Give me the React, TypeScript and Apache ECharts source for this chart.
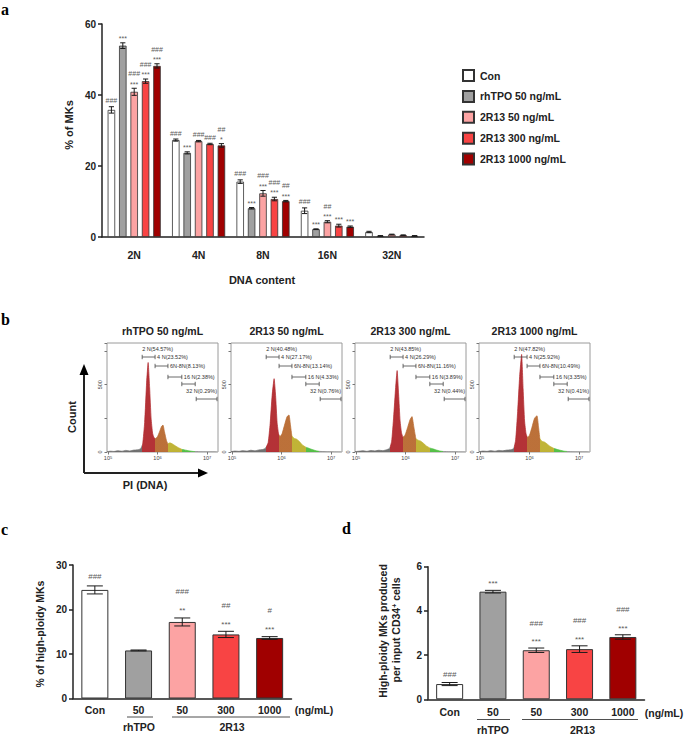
import React, { useEffect, useRef } from "react";
import * as echarts from "echarts";

const FONT = "'Liberation Sans', Arial, sans-serif";
const SERIF = "'Liberation Serif', 'Times New Roman', serif";
const AXIS = "#222";
const SIGC = "#5a5a5a";

// ---------- Panel a ----------
const dnaCategories = ["2N", "4N", "8N", "16N", "32N"];
const groupNames = ["Con", "rhTPO 50 ng/mL", "2R13 50 ng/mL", "2R13 300 ng/mL", "2R13 1000 ng/mL"];
const groupColors = ["#ffffff", "#a0a0a0", "#fca3a3", "#f84444", "#a00000"];
const conPct = [35.8, 27.3, 15.6, 7.4, 1.4];
const rhtpoPct = [53.9, 23.7, 8.1, 2.2, 0.3];
const r50Pct = [40.9, 27.0, 12.3, 4.3, 0.7];
const r300Pct = [43.9, 26.2, 10.7, 3.2, 0.5];
const r1000Pct = [48.2, 25.8, 10.1, 2.9, 0.3];
const conErr = [0.9, 0.3, 0.5, 0.8, 0.2];
const rhtpoErr = [0.8, 0.3, 0.2, 0.1, 0.1];
const r50Err = [1.0, 0.2, 0.8, 0.3, 0.1];
const r300Err = [0.6, 0.2, 0.5, 0.4, 0.1];
const r1000Err = [0.6, 0.5, 0.2, 0.2, 0.1];
const conSig = [["###"], ["###"], ["###"], ["###"], []];
const rhtpoSig = [["***"], ["***"], ["***"], ["***"], []];
const r50Sig = [["***", "###"], ["###"], ["***", "###"], ["***", "##"], []];
const r300Sig = [["***", "###"], ["###"], ["***", "###"], ["***"], []];
const r1000Sig = [["***", "###"], ["*", "##"], ["***", "##"], ["***"], []];

// ---------- Panel b ----------
const histTitles = ["rhTPO 50 ng/mL", "2R13 50 ng/mL", "2R13 300 ng/mL", "2R13 1000 ng/mL"];
const gateNames = ["2 N", "4 N", "6N-8N", "16 N", "32 N"];
const gateRanges = [[5.69, 5.95], [5.95, 6.21], [6.21, 6.49], [6.49, 6.76], [6.78, 7.2]];
const gatePctRhTPO = [54.57, 23.52, 8.13, 2.38, 0.29];
const gatePct50 = [40.48, 27.17, 13.14, 4.33, 0.76];
const gatePct300 = [43.85, 26.29, 11.16, 3.89, 0.44];
const gatePct1000 = [47.82, 25.92, 10.49, 3.35, 0.41];
const histRhTPO = [[4.98,2],[5.05,6],[5.12,4],[5.2,9],[5.28,6],[5.36,12],[5.44,8],[5.52,14],[5.6,16],[5.66,25],[5.7,60],[5.74,220],[5.78,520],[5.81,665],[5.84,480],[5.87,250],[5.9,140],[5.93,105],[5.96,100],[6.0,115],[6.04,150],[6.08,190],[6.11,200],[6.14,150],[6.18,85],[6.21,62],[6.25,68],[6.3,60],[6.35,48],[6.42,32],[6.49,20],[6.55,15],[6.62,10],[6.7,5],[6.76,3],[6.9,1],[7.2,0]];
const hist50 = [[4.98,3],[5.06,7],[5.14,5],[5.22,10],[5.3,7],[5.38,13],[5.46,9],[5.54,15],[5.62,18],[5.68,30],[5.73,70],[5.77,210],[5.81,420],[5.85,545],[5.88,420],[5.91,220],[5.94,135],[5.97,115],[6.01,135],[6.06,200],[6.11,262],[6.15,275],[6.18,200],[6.21,120],[6.25,102],[6.3,96],[6.36,78],[6.42,52],[6.49,36],[6.55,28],[6.62,18],[6.7,9],[6.76,5],[6.9,2],[7.2,0]];
const hist300 = [[4.98,3],[5.06,6],[5.14,9],[5.22,5],[5.3,11],[5.38,8],[5.46,13],[5.54,10],[5.62,17],[5.68,28],[5.72,80],[5.76,260],[5.8,480],[5.83,605],[5.86,430],[5.89,230],[5.92,140],[5.95,112],[5.99,125],[6.04,180],[6.09,240],[6.13,263],[6.17,180],[6.21,100],[6.25,88],[6.3,82],[6.36,65],[6.42,45],[6.49,30],[6.55,24],[6.62,15],[6.7,7],[6.76,4],[6.9,2],[7.2,0]];
const hist1000 = [[4.98,2],[5.06,7],[5.14,5],[5.22,10],[5.3,6],[5.38,12],[5.46,9],[5.54,14],[5.62,16],[5.68,26],[5.72,90],[5.76,300],[5.8,560],[5.84,725],[5.87,470],[5.9,230],[5.93,135],[5.96,110],[6.0,125],[6.05,185],[6.1,250],[6.15,270],[6.18,190],[6.21,100],[6.25,80],[6.3,74],[6.36,58],[6.42,40],[6.49,27],[6.55,20],[6.62,13],[6.7,6],[6.76,4],[6.9,1],[7.2,0]];
const histDecades = [5, 6, 7];

// ---------- Panels c, d ----------
const cdKeys = ["Con", "rhTPO 50", "2R13 50", "2R13 300", "2R13 1000"];
const cdLabels = ["Con", "50", "50", "300", "1000"];
const highPloidyPct = [24.4, 10.8, 17.2, 14.4, 13.6];
const highPloidyErr = [0.9, 0.1, 0.9, 0.7, 0.3];
const highPloidySig = [["###"], [], ["**", "###"], ["***", "##"], ["***", "#"]];
const perInputCD34 = [0.69, 4.87, 2.22, 2.27, 2.82];
const perInputErr = [0.07, 0.06, 0.1, 0.15, 0.1];
const perInputSig = [["###"], ["***"], ["***", "###"], ["***", "###"], ["***", "###"]];

const HX_MIN = 4.98, HX_MAX = 7.22, HY_MAX = 810;
const bracketRows = [14, 23, 34, 41, 56];

function errSeries(axisIdx: number, values: number[], errs: number[], sigs: string[][], offset: number, capHalf: number, rows: number[], fs: number) {
  return {
    type: "custom",
    xAxisIndex: axisIdx,
    yAxisIndex: axisIdx,
    z: 5,
    clip: false,
    silent: true,
    itemStyle: { color: SIGC },
    data: values.map((v, i) => [i, v]),
    encode: { x: 0, y: 1 },
    renderItem: (params: any, api: any) => {
      const i = params.dataIndex;
      const v = values[i], e = errs[i];
      const c = api.coord([i, v]);
      const x = c[0] + offset;
      const yT = api.coord([i, v + e])[1];
      const yB = api.coord([i, Math.max(0, v - e)])[1];
      const st = { stroke: "#1a1a1a", lineWidth: 1 };
      const children: any[] = [
        { type: "line", shape: { x1: x, y1: yB, x2: x, y2: yT }, style: st },
        { type: "line", shape: { x1: x - capHalf, y1: yT, x2: x + capHalf, y2: yT }, style: st },
        { type: "line", shape: { x1: x - capHalf, y1: yB, x2: x + capHalf, y2: yB }, style: st },
      ];
      sigs[i].forEach((s, k) => {
        const star = s.indexOf("*") >= 0;
        children.push({
          type: "text",
          x,
          y: yT - rows[k] + (star ? fs * 0.25 : 0),
          style: { text: s, align: "center", verticalAlign: "middle", fontSize: fs, fill: SIGC, stroke: "transparent", lineWidth: 0, fontFamily: FONT },
        });
      });
      return { type: "group", children };
    },
  };
}

function bracketSeries(axisIdx: number, pcts: number[]) {
  return {
    type: "custom",
    xAxisIndex: axisIdx,
    yAxisIndex: axisIdx,
    z: 6,
    clip: false,
    silent: true,
    itemStyle: { color: "#444" },
    data: gateRanges.map((g) => [g[0], g[1]]),
    encode: { x: [0, 1] },
    renderItem: (params: any, api: any) => {
      const k = params.dataIndex;
      const [s, e] = gateRanges[k];
      const top = api.coord([s, HY_MAX])[1];
      const xs = api.coord([s, 0])[0];
      const xe = api.coord([e, 0])[0];
      const y = top + bracketRows[k];
      const st = { stroke: "#444", lineWidth: 0.8 };
      const children: any[] = [
        { type: "line", shape: { x1: xs, y1: y, x2: xe, y2: y }, style: st },
        { type: "line", shape: { x1: xs, y1: y - 2.2, x2: xs, y2: y + 2.2 }, style: st },
        { type: "line", shape: { x1: xe, y1: y - 2.2, x2: xe, y2: y + 2.2 }, style: st },
      ];
      const label = `${gateNames[k]}(${pcts[k].toFixed(2)}%)`;
      let tx: number, ty: number, align = "left";
      if (k === 0) { tx = xs; ty = top + 6; }
      else if (k < 4) { tx = api.coord([gateRanges[k - 1][1], 0])[0] + 2; ty = top + bracketRows[k - 1]; }
      else { tx = xe; ty = top + 48; align = "right"; }
      children.push({ type: "text", x: tx, y: ty, style: { text: label, align, verticalAlign: "middle", fontSize: 5.5, fill: "#333", stroke: "transparent", lineWidth: 0, fontFamily: FONT } });
      return { type: "group", children };
    },
  };
}

function buildOption() {
  const histLefts = [107, 231, 355, 479];
  const grids: any[] = [
    { left: 102, top: 24, width: 322, height: 213 },
    ...histLefts.map((l) => ({ left: l, top: 343, width: 111, height: 109, show: true, borderColor: "#9a9a9a", borderWidth: 1, backgroundColor: "transparent" })),
    { left: 73, top: 565, width: 218.5, height: 133.5 },
    { left: 428, top: 566.7, width: 216.5, height: 132.6 },
  ];
  const boldLabel = { fontFamily: FONT, fontWeight: "bold", color: AXIS };
  const axLine = { show: true, lineStyle: { color: AXIS, width: 1.5 } };

  const xAxis: any[] = [
    { type: "category", gridIndex: 0, data: dnaCategories, axisLine: axLine, axisTick: { alignWithLabel: true, length: 5, lineStyle: { color: AXIS, width: 1.5 } }, axisLabel: { ...boldLabel, fontSize: 10.5, margin: 12 } },
    ...histLefts.map((_, i) => ({
      type: "value", gridIndex: i + 1, min: HX_MIN, max: HX_MAX,
      axisLine: { show: false }, splitLine: { show: false },
      axisTick: { show: true, customValues: histDecades, length: 2.5, lineStyle: { color: "#777" } },
      axisLabel: {
        customValues: histDecades, fontSize: 5.5, color: "#444", margin: 3, fontFamily: FONT,
        formatter: (v: number) => `10{s|${Math.round(v)}}`,
        rich: { s: { fontSize: 4, verticalAlign: "top", color: "#444", fontFamily: FONT } },
      },
    })),
    { type: "category", gridIndex: 5, data: cdKeys, axisLine: axLine, axisTick: { show: false }, axisLabel: { ...boldLabel, fontSize: 10.5, margin: 6, formatter: (_v: string, idx: number) => cdLabels[idx] } },
    { type: "category", gridIndex: 6, data: cdKeys, axisLine: axLine, axisTick: { show: false }, axisLabel: { ...boldLabel, fontSize: 10.5, margin: 7, formatter: (_v: string, idx: number) => cdLabels[idx] } },
  ];
  const yAxis: any[] = [
    { type: "value", gridIndex: 0, min: 0, max: 60, interval: 20, axisLine: axLine, axisTick: { show: true, length: 4, lineStyle: { color: AXIS, width: 1.5 } }, splitLine: { show: false }, axisLabel: { ...boldLabel, fontSize: 10, margin: 6 } },
    ...histLefts.map((_, i) => ({
      type: "value", gridIndex: i + 1, min: 0, max: HY_MAX, interval: 250,
      axisLine: { show: false }, splitLine: { show: false },
      axisTick: { show: true, length: 2.5, lineStyle: { color: "#777" } },
      axisLabel: { fontSize: 5.5, color: "#444", margin: 4, rotate: 90, fontFamily: FONT, formatter: (v: number) => (v === 0 || v === 500 ? String(v) : "") },
    })),
    { type: "value", gridIndex: 5, min: 0, max: 30, interval: 10, axisLine: axLine, axisTick: { show: true, length: 4, lineStyle: { color: AXIS, width: 1.5 } }, splitLine: { show: false }, axisLabel: { ...boldLabel, fontSize: 10, margin: 6 } },
    { type: "value", gridIndex: 6, min: 0, max: 6, interval: 2, axisLine: axLine, axisTick: { show: true, length: 4, lineStyle: { color: AXIS, width: 1.5 } }, splitLine: { show: false }, axisLabel: { ...boldLabel, fontSize: 10, margin: 6 } },
  ];

  const series: any[] = [];
  const aVals = [conPct, rhtpoPct, r50Pct, r300Pct, r1000Pct];
  const aErrs = [conErr, rhtpoErr, r50Err, r300Err, r1000Err];
  const aSigs = [conSig, rhtpoSig, r50Sig, r300Sig, r1000Sig];
  const BW = 7.5, GAP = 0.52;
  groupNames.forEach((name, g) => {
    series.push({
      type: "bar", name, xAxisIndex: 0, yAxisIndex: 0, data: aVals[g], barWidth: BW, barGap: `${GAP * 100}%`,
      itemStyle: { color: groupColors[g], borderColor: "#333", borderWidth: 0.8 },
    });
  });
  groupNames.forEach((_n, g) => {
    series.push(errSeries(0, aVals[g], aErrs[g], aSigs[g], (g - 2) * BW * (1 + GAP), 2.6, [6, 14.5], 7));
  });

  const hists = [histRhTPO, hist50, hist300, hist1000];
  const pcts = [gatePctRhTPO, gatePct50, gatePct300, gatePct1000];
  const histIdx: number[] = [];
  hists.forEach((h, i) => {
    histIdx.push(series.length);
    series.push({
      type: "line", name: histTitles[i], xAxisIndex: i + 1, yAxisIndex: i + 1, data: h, symbol: "none", smooth: 0.15,
      lineStyle: { width: 0.7 }, areaStyle: { opacity: 0.95 }, z: 3, silent: true,
    });
    series.push(bracketSeries(i + 1, pcts[i]));
  });

  series.push({
    type: "bar", name: "high-ploidy", xAxisIndex: 5, yAxisIndex: 5, barWidth: 27,
    data: highPloidyPct.map((v, i) => ({ value: v, itemStyle: { color: groupColors[i] } })),
    itemStyle: { borderColor: "#333", borderWidth: 1 },
  });
  series.push(errSeries(5, highPloidyPct, highPloidyErr, highPloidySig, 0, 8, [9, 26], 8));
  series.push({
    type: "bar", name: "per-input", xAxisIndex: 6, yAxisIndex: 6, barWidth: 27,
    data: perInputCD34.map((v, i) => ({ value: v, itemStyle: { color: groupColors[i] } })),
    itemStyle: { borderColor: "#333", borderWidth: 1 },
  });
  series.push(errSeries(6, perInputCD34, perInputErr, perInputSig, 0, 8, [8.5, 25], 8));

  const txt = (x: number, y: number, text: string, size: number, extra: any = {}) => ({
    type: "text", x, y, ...extra,
    style: { text, fontSize: size, fontWeight: "bold", fontFamily: FONT, fill: AXIS, align: "center", verticalAlign: "middle", ...(extra.style || {}) },
  });
  const ln = (x1: number, y1: number, x2: number, y2: number, w = 1) => ({ type: "line", shape: { x1, y1, x2, y2 }, style: { stroke: AXIS, lineWidth: w } });
  const letter = (x: number, y: number, t: string) => ({ type: "text", x, y, style: { text: t, fontSize: 16, fontWeight: "bold", fontFamily: SERIF, fill: "#000", align: "left", verticalAlign: "middle" } });
  const ROT = Math.PI / 2;

  const graphic: any[] = [
    letter(1, 9, "a"), letter(1, 319, "b"), letter(1, 529, "c"), letter(342, 528, "d"),
    txt(68.5, 125, "% of MKs", 11, { rotation: ROT }),
    txt(262, 280, "DNA content", 11),
    ...histTitles.map((t, i) => txt(histLefts[i] + 55.5, 331, t, 10.5)),
    ln(84, 473, 84, 372, 2), { type: "polygon", shape: { points: [[79.5, 375], [88.5, 375], [84, 364]] }, style: { fill: "#000" } },
    ln(84, 473, 199, 473, 2), { type: "polygon", shape: { points: [[198, 468.5], [198, 477.5], [208, 473]] }, style: { fill: "#000" } },
    txt(72, 417, "Count", 11, { rotation: ROT }),
    txt(145, 485, "PI (DNA)", 11),
    txt(40, 634, "% of high-ploidy MKs", 10.5, { rotation: ROT }),
    txt(314, 710, "(ng/mL)", 10.5),
    ln(127, 717, 153, 717, 0.8), txt(139, 727, "rhTPO", 10.5),
    ln(172, 717, 290, 717, 0.8), txt(232, 727, "2R13", 10.5),
    txt(382.5, 631, "High-ploidy MKs produced", 10.5, { rotation: ROT }),
    {
      type: "text", x: 396, y: 630, rotation: ROT,
      style: {
        text: "per input CD34{sup|+} cells", fontSize: 10.5, fontWeight: "bold", fontFamily: FONT, fill: AXIS, align: "center", verticalAlign: "middle",
        rich: { sup: { fontSize: 7, fontWeight: "bold", fontFamily: FONT, fill: AXIS, verticalAlign: "top" } },
      },
    },
    txt(664, 712.5, "(ng/mL)", 10.5),
    ln(477, 719.5, 510, 719.5, 0.8), txt(493, 729.5, "rhTPO", 10.5),
    ln(522, 719.5, 638, 719.5, 0.8), txt(582.5, 729.5, "2R13", 10.5),
  ];

  return {
    animation: false,
    backgroundColor: "#ffffff",
    grid: grids,
    xAxis,
    yAxis,
    series,
    legend: {
      data: groupNames, orient: "vertical", left: 457, top: 64, itemWidth: 11, itemHeight: 11, itemGap: 7.9,
      icon: "rect", selectedMode: false,
      textStyle: { fontFamily: FONT, fontWeight: "bold", fontSize: 10.5, color: AXIS, padding: [0, 0, 0, 1], lineHeight: 11 },
    },
    visualMap: {
      type: "piecewise", show: false, dimension: 0, seriesIndex: histIdx,
      pieces: [
        { lt: 5.69, color: "#6a6a6a" },
        { gte: 5.69, lt: 5.95, color: "#b0272c" },
        { gte: 5.95, lt: 6.21, color: "#b8692f" },
        { gte: 6.21, lt: 6.49, color: "#bdb02c" },
        { gte: 6.49, lt: 6.76, color: "#4dbd3f" },
        { gte: 6.76, color: "#8a8a8a" },
      ],
    },
    graphic,
  };
}

export default function App() {
  const ref = useRef<HTMLDivElement>(null);
  useEffect(() => {
    if (!ref.current) return;
    const chart = echarts.init(ref.current, undefined, { renderer: "svg" });
    chart.setOption(buildOption() as any);
    return () => chart.dispose();
  }, []);
  return <div ref={ref} style={{ position: "absolute", left: 0, top: 0, width: 685, height: 736, background: "#fff", opacity: 0.999 }} />;
}
